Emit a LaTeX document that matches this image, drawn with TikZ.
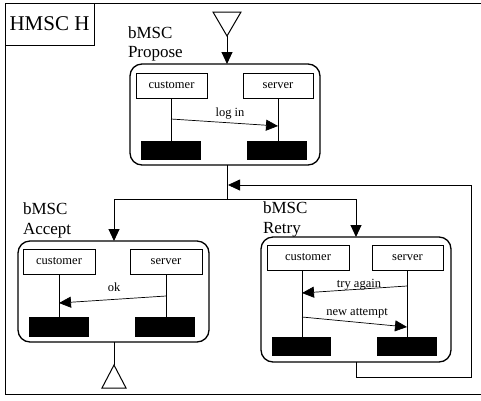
\documentclass[tikz,border=0pt]{standalone}
\usepackage{fontspec}
\setmainfont{Liberation Serif}
\usetikzlibrary{arrows.meta}
\begin{document}
\begin{tikzpicture}[x=1pt,y=-1pt,
  every node/.style={inner sep=0pt, outer sep=0pt},
  lifebox/.style={draw, line width=1pt, minimum height=25pt, font=\fontsize{12.5}{14}\selectfont},
  endbar/.style={fill=black, draw=none, minimum height=19pt, minimum width=60pt},
  mscframe/.style={draw, line width=1.3pt, rounded corners=12pt},
  lifeline/.style={line width=1pt},
  msg/.style={line width=0.7pt, -{Triangle[length=12pt,width=11pt]}},
  conn/.style={line width=1pt, -{Triangle[length=12pt,width=11pt]}},
  loopline/.style={line width=0.8pt, -{Triangle[length=12pt,width=11pt]}},
  msglabel/.style={font=\fontsize{12.5}{14}\selectfont, anchor=base},
  title/.style={font=\fontsize{17}{20}\selectfont, anchor=base west},
]
\useasboundingbox (0,0) rectangle (481,400);

% outer frame (right edge outside the picture)
\draw[line width=1pt] (481,3) -- (5,3) -- (5,394) -- (481,394);
\node[draw, line width=1pt, minimum width=89pt, minimum height=42pt, anchor=north west,
      font=\fontsize{21}{24}\selectfont] (hname) at (5,3) {HMSC H};

% start triangle
\coordinate (sA) at (213,12);
\coordinate (sB) at (241,12);
\coordinate (sC) at (227,36);
\draw[line width=1pt] (sA) -- (sB) -- (sC) -- cycle;

% ---------- Propose ----------
\node[title] (pt1) at (128,38) {bMSC};
\node[title] (pt2) at (128,57) {Propose};
\node[mscframe, minimum width=190pt, minimum height=101pt] (prop) at (225,114.5) {};
\node[lifebox, minimum width=71pt] (pc) at (171.5,85.5) {customer};
\node[lifebox, minimum width=70pt] (ps) at (278,85.5) {server};
\node[endbar] (pcb) at (171,150.5) {};
\node[endbar] (psb) at (277,150.5) {};
\coordinate (pcx) at (171,98);
\coordinate (psx) at (278,98);
\draw[lifeline] (pcx) -- (pcx |- pcb.north);
\draw[lifeline] (psx) -- (psx |- psb.north);
\coordinate (m1a) at (171,119);
\coordinate (m1b) at (278,126);
\draw[msg] (m1a) -- (m1b);
\node[msglabel] (m1l) at (230,116) {log in};

\draw[conn] (sC) -- (sC |- prop.north);

% ---------- branching ----------
\coordinate (j) at (227,199);
\coordinate (jl) at (114,199);
\coordinate (jr) at (356,199);
\draw[line width=1pt] (prop.south -| j) -- (j);
\draw[line width=1pt] (jl) -- (jr);

% ---------- Accept ----------
\node[title] (at1) at (23,214) {bMSC};
\node[title] (at2) at (23,234) {Accept};
\node[mscframe, minimum width=191pt, minimum height=101pt] (acc) at (113.5,291.5) {};
\node[lifebox, minimum width=72pt] (ac) at (59,261.5) {customer};
\node[lifebox, minimum width=72pt] (as) at (166,261.5) {server};
\node[endbar, minimum height=20pt] (acb) at (59,327) {};
\node[endbar, minimum height=20pt] (asb) at (165,327) {};
\coordinate (acx) at (59,274);
\coordinate (asx) at (166,274);
\draw[lifeline] (acx) -- (acx |- acb.north);
\draw[lifeline] (asx) -- (asx |- asb.north);
\coordinate (m2a) at (166,296);
\coordinate (m2b) at (59,303);
\draw[msg] (m2a) -- (m2b);
\node[msglabel] (m2l) at (114,291) {ok};

\draw[conn] (jl) -- (jl |- acc.north);

% end triangle
\coordinate (eA) at (114,365);
\coordinate (eB) at (102,388);
\coordinate (eC) at (126,388);
\draw[line width=1pt] (acc.south -| eA) -- (eA);
\draw[line width=1pt] (eA) -- (eB) -- (eC) -- cycle;

% ---------- Retry ----------
\node[title] (rt1) at (263,213) {bMSC};
\node[title] (rt2) at (263,233) {Retry};
\node[mscframe, minimum width=190pt, minimum height=125pt] (ret) at (356,299.5) {};
\node[lifebox, minimum width=82pt] (rc) at (308,257.5) {customer};
\node[lifebox, minimum width=71pt] (rs) at (407.5,257.5) {server};
\node[endbar, minimum width=59pt] (rcb) at (301.5,346.5) {};
\node[endbar] (rsb) at (407,346.5) {};
\coordinate (rcx) at (302,270);
\coordinate (rsx) at (407,270);
\draw[lifeline] (rcx) -- (rcx |- rcb.north);
\draw[lifeline] (rsx) -- (rsx |- rsb.north);
\coordinate (m3a) at (407,286);
\coordinate (m3b) at (302,293);
\draw[msg] (m3a) -- (m3b);
\node[msglabel] (m3l) at (359,287) {try again};
\coordinate (m4a) at (302,317);
\coordinate (m4b) at (407,327);
\draw[msg] (m4a) -- (m4b);
\node[msglabel] (m4l) at (357,315) {new attempt};

\draw[conn] (jr) -- (jr |- ret.north);

% loop back
\coordinate (l1) at (356,377);
\coordinate (l2) at (471,377);
\coordinate (l3) at (471,185);
\coordinate (l4) at (228,185);
\draw[loopline] (ret.south -| l1) -- (l1) -- (l2) -- (l3) -- (l4);
\end{tikzpicture}
\end{document}
